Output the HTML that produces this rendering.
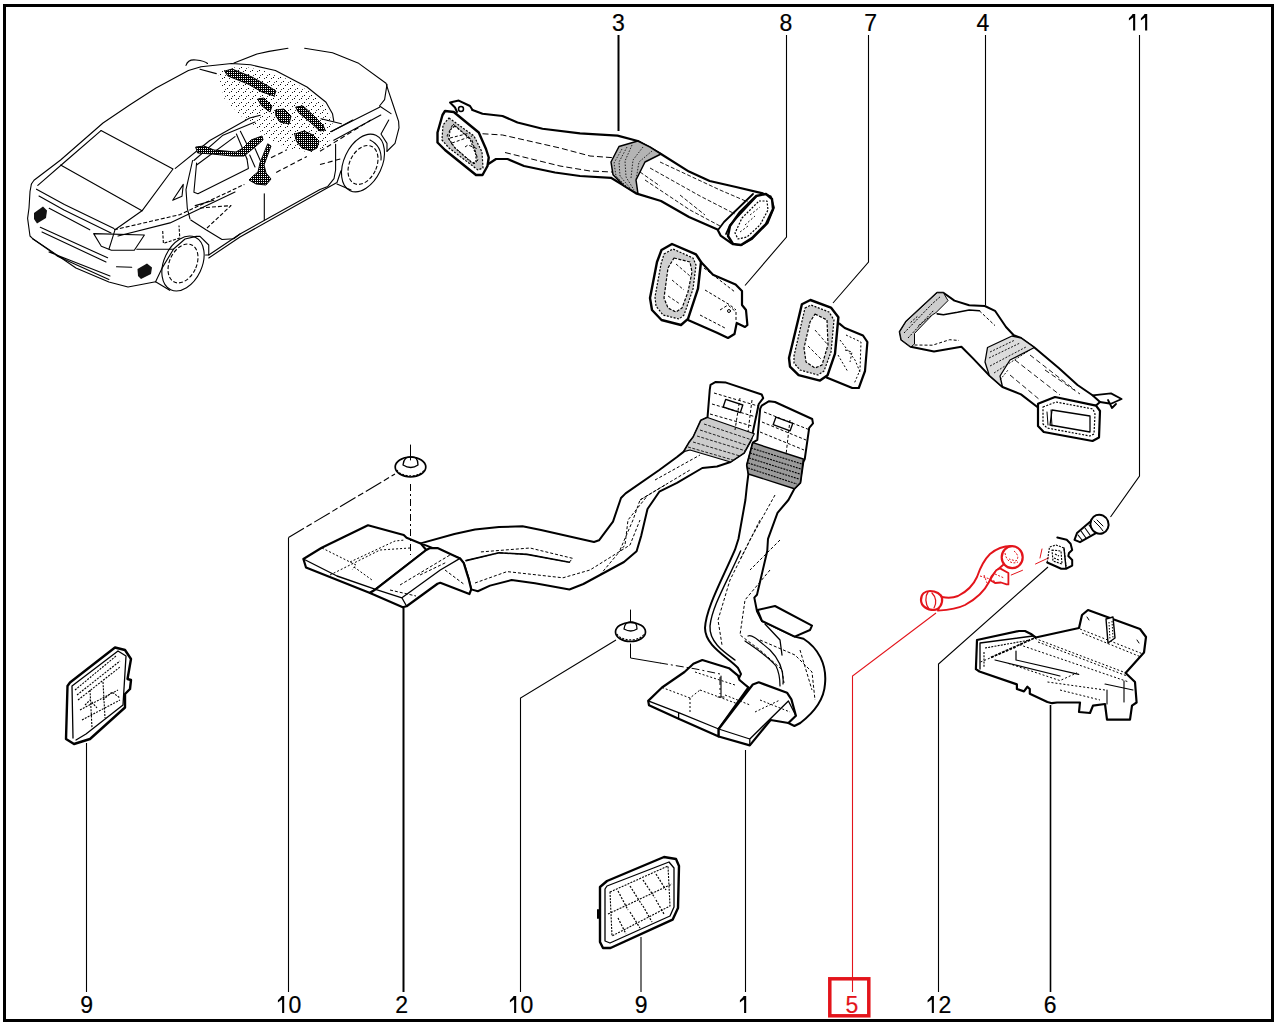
<!DOCTYPE html>
<html><head><meta charset="utf-8">
<style>
html,body{margin:0;padding:0;background:#fff;width:1280px;height:1024px;overflow:hidden}
svg{position:absolute;left:0;top:0}
text{font-family:"Liberation Sans",sans-serif;font-size:23px;fill:#000;stroke:#000;stroke-width:0.2}
</style></head><body>
<svg width="1280" height="1024" viewBox="0 0 1280 1024">
<rect x="4.5" y="5.5" width="1268" height="1015" fill="none" stroke="#000" stroke-width="3"/>


<!-- CAR -->
<defs>
<pattern id="spk" width="7" height="7" patternUnits="userSpaceOnUse">
<rect x="0" y="0" width="1" height="1" fill="#000"/><rect x="3" y="4" width="1" height="1" fill="#000"/><rect x="5" y="1" width="1" height="1" fill="#222"/><rect x="1" y="5" width="1" height="1" fill="#444"/>
</pattern>
<pattern id="hrn" width="2" height="2" patternUnits="userSpaceOnUse">
<rect x="0" y="0" width="2" height="2" fill="#000"/><rect x="1" y="0" width="1" height="1" fill="#fff"/>
</pattern>
</defs>
<path fill="url(#spk)" d="M218,72 L240,66 L262,70 L290,80 L310,92 L326,106 L333,125 L328,146 L312,152 L290,150 L272,140 L255,128 L240,115 L224,98 Z"/>
<g fill="none" stroke="#000" stroke-width="1.1" stroke-linejoin="round" stroke-linecap="round">
<!-- roof outer -->
<path d="M31.4,184 L34,180.3 L60.6,160 L103,123 L130,104.8 L156,88 L188.4,70.5 L201,66.7 L231.6,63.5 L250.6,64.8 L275.4,70.5 L307,87 L326,102.2 L332.5,113.65 L333.8,121.3"/>
<path d="M37.8,185.4 L67,160 L101,130.6"/>
<path d="M186,65.4 Q188,59 196,60 Q205,61 207.5,63.5 M200,69.2 L216.3,73.65"/>
<!-- rear window -->
<path d="M101,130.6 L173,169 L142,210.8 L60.6,165"/>
<path d="M142,210.8 L115,229.8 L111.4,241.3 L109,249"/>
<!-- trunk -->
<path d="M36.5,189.2 L64.4,204.4 L114,228.6 M39,196 L64,210 L111,233"/>
<path d="M31.4,184 L30,191.7 L29,208 L27.6,218.4 L30,236 L32.7,238.7 L51.7,251.4 L75.9,268 L108.9,282 L128,287 L140,284.8 L155.6,281.7 L169.7,290.3"/>
<path d="M32.7,238.7 L58,256.5 L108.9,279.4 M49,252 L110,276"/>
<path d="M40.3,227.3 L107.6,257.8 M42,232 L106,262"/>
<path d="M49.2,208.25 L89.8,229.8"/>
<path d="M93.65,233.65 L144.4,235 L134.3,250.2 L111.4,250.2 L101.3,246.3 Z"/>
<path d="M136.8,249.3 L173.6,249.3 M116.5,266.7 L131.7,267.3"/>
<path stroke-linecap="butt" stroke-dasharray="4 2" d="M114,229.8 L180,214.6 L244.4,184.4"/>
<path d="M118,236 L170,222.9 L235,192"/>
<path stroke-linecap="butt" stroke-dasharray="3 1.5" d="M162.7,231 L163.4,243.4 L179.8,238 L179,225.5"/>
<!-- rear wheel -->
<path d="M155.6,281.7 L161.9,268.4 L173.6,249 L185,239 L196.25,236.4 L200,236.4 L208.75,245 L208.75,255 L205.6,255"/>
<ellipse cx="183" cy="263.5" rx="19" ry="29" transform="rotate(25 183 263.5)"/>
<ellipse cx="183" cy="263.5" rx="13.5" ry="20.5" transform="rotate(25 183 263.5)" stroke-linecap="butt" stroke-dasharray="4 2"/>
<path d="M190.8,220 L206.4,230 L222,239.5 L233.75,238.75 L240,234"/>
<!-- roof side / A-pillar -->
<path d="M175.3,168.4 L209.8,140.5 L249.7,118 L260.3,115.3"/>
<path d="M193.9,160.5 L223,135.2 L255,122"/>
<path d="M192.6,160.5 L186,189.7 L187.3,208.3 L190,218.9"/>
<path d="M196.6,163 L193.9,192.3 L197.9,193.7 L248.4,168.4 L247,159"/>
<path d="M196.6,165 L235,136.6"/>
<path d="M236.4,134 L247,159 M240.4,131.2 L249.7,149.8 M249.7,155 L255,167 M255,148.5 L260.3,160.5"/>
<path d="M172.7,200.3 L183.3,184.4 L182,196.3 Z"/>
<path d="M195.2,205.6 L213.8,200.3"/>
<path stroke-linecap="butt" stroke-dasharray="4 2" d="M200,208 L231,205.6 L207,228"/>
<!-- sill -->
<path d="M208.75,255 L240,234 L320,189.5 L327.8,186.4 L334,178.6 L335.6,170 L335.6,144.2"/>
<path d="M208.75,258 L240,237 L320,192 L337,182.5 L341,170.8"/>
<path d="M264.3,193.7 L264.3,220"/>
<path stroke-linecap="butt" stroke-dasharray="5 3" d="M271,157.8 L286.9,149.8 M276.2,172.4 L306.8,156.5 M320,164.5 L340.3,159 M320,151.25 L370.8,120"/>
<path d="M331,131.7 L352.8,120"/>
<!-- front fender / hood -->
<path d="M234,62.9 L257,54 L269,51.4 L288,48.25 M304.6,48.25 L332.5,52.7 L358,62.9 L386,83.2 L388.4,90.8 L393.5,106 L398.6,121.3 L399,127.8 L395,143.4 L387,151.25"/>
<path d="M387,84.4 L384.6,99.7 L379.5,106 L391,113.65"/>
<path d="M331.3,131.4 L379.5,107.3 M333.8,140.3 L380.8,115"/>
<path d="M321,118.7 L341.4,123.8"/>
<path d="M388.75,120 L381,134 L387,143.4 L387,151.25"/>
<path d="M337,184 L351,190"/>
<ellipse cx="363" cy="163" rx="19" ry="30.5" transform="rotate(25 363 163)"/>
<path d="M370,140 Q382,146 381,160"/>
<ellipse cx="363" cy="165" rx="13.5" ry="20.5" transform="rotate(25 363 165)" stroke-linecap="butt" stroke-dasharray="4 2"/>
</g>
<!-- harness -->
<g fill="url(#hrn)" stroke="#000" stroke-linejoin="round" stroke-linecap="round">
<path stroke-width="1" d="M225,71 L232,69 L252,77 L268,86 L276,91 L274,96 L262,92 L248,84 L228,76 Z"/>
<path stroke-width="1" d="M258,99 L264,98 L272,106 L270,112 L262,106 Z"/>
<path stroke-width="1" d="M276,110 L284,109 L291,116 L289,124 L280,122 L276,116 Z"/>
<path stroke-width="1" d="M196,147 L204,146 L214,150 L236,152 L243,148 L251,140 L262,136 L263,140 L255,147 L244,156 L232,156 L212,154 L198,153 Z"/>
<path stroke-width="1" d="M268,144 L271,146 L264,165 L266,173 L271,179 L266,185 L256,184 L249,180 L253,176 L258,172 L260,163 Z"/>
<path stroke-width="1" d="M296,107 L303,106 L313,115 L323,125 L325,130 L320,131 L310,122 L299,113 Z"/>
<path stroke-width="1" d="M295,134 L304,131 L313,135 L319,141 L317,148 L311,151 L302,148 L297,142 Z"/>
</g>
<g fill="#000">
<path fill="#111" d="M34,213 L43,206.5 L47,210.5 L46,218 L37,223.5 L34,219 Z"/>
<path fill="#111" d="M137.5,269 L147,263.5 L152,267.5 L151,274 L141,279 L138,276 Z"/>
</g>
<!-- PART 3 -->
<g fill="none" stroke="#000" stroke-linejoin="round" stroke-linecap="round">
<path fill="#fff" stroke-width="2.2" d="M472.5,110 L482.5,113.75 L502.5,116 L517.5,122.5 L542.5,128.75 L580,133.3 L617.5,135.6 L637.8,141 L661,154 L689,171.6 L709.7,181 L736,187 L762.8,193.4 L770.6,196.6 L773.75,207.5 L767.5,223 L752,238.75 L741,245 L731.6,243.4 L720.6,235.6 L717.5,229.4 L689,217 L661,201 L636,193.4 L623.75,185.6 L611,177.8 L580,176 L555,172.5 L524,166 L507.5,159 L496,159 L488.75,163.75"/>
<path stroke-width="2" d="M450,102.5 L458.75,100.6 L470,106 L472.5,110 M450,102.5 L455,107.5 L457,112"/>
<circle cx="461" cy="109" r="2.5" stroke-width="1.5"/>
<path fill="#fff" stroke-width="2.4" d="M445,111 L453.75,112 L478.75,132.5 L486,149 L488.75,157.5 L487.5,166 L482.5,175 L476,175 L445,150 L437.5,142.5 L437.5,132.5 L442.5,115 Z"/>
<path fill="#c8c8c8" stroke-width="1.2" stroke-linecap="butt" stroke-dasharray="2 1.5" d="M449,118 L474,136 L482,152 L483,168 L478,170 L449,148 L442,140 L443,125 Z"/>
<path fill="#fff" stroke-width="1.2" stroke-linecap="butt" stroke-dasharray="2 1.5" d="M455,126 L470,139 L476,155 L476,162 L472,163 L455,148 L449,139 L450,130 Z"/>
<path stroke-width="1" stroke-linecap="butt" stroke-dasharray="3 2" d="M453,124 L472,140 L478,160 L474,164 L453,146 L447,136 Z M450,138 L470,133 M452,143 L472,136 M465,147 L468,145 L478,149"/>
<path stroke-width="1" stroke-linecap="butt" stroke-dasharray="6 3" d="M482.5,133.75 L502.5,135 L560,148 L590,156 L617,158 M505,152.5 L560,166 L590,171 L612,172"/>
<!-- ring -->
<path fill="#b4b4b4" stroke-width="1.5" d="M619,146.5 L637.8,141 L650,147 L661,154 L645,162 L636,180 L638,194 L623.75,185.6 L613,174.7 L611,162 Z"/>
<path stroke-width="0.8" stroke-linecap="butt" stroke-dasharray="1.5 1.5" d="M622,149 L614,163 L616,176 L626,186 M627,147 L619,162 L620,176 L630,188 M632,145 L625,161 L626,177 L634,190 M643,147 L633,160 L631,178 M652,151 L639,162 L636,180"/>
<path stroke-width="0.9" stroke-linecap="butt" stroke-dasharray="4 2" d="M650,168 L700,196 L735,214 M660,162 L720,190 L748,202 M645,180 L690,210 L720,226 M640,172 L660,186 M680,195 L705,215"/>
<!-- end face -->
<path fill="#fff" stroke-width="2.4" d="M756,196 L766,194 L772,199 L773,209 L766,224 L752,238 L741,245 L733,244 L728,236 L730,226 L740,212 Z"/>
<path stroke-width="1.2" stroke-linecap="butt" stroke-dasharray="2 1.5" d="M759,201 L767,201 L768,210 L760,225 L747,237 L738,239 L735,233 L742,218 Z"/>
<path stroke-width="1.8" d="M753,194 L724,222 L718,230 M757,196 L730,225 L726,234"/>
<path stroke-width="0.9" stroke-linecap="butt" stroke-dasharray="2 2" d="M750,215 L760,207 M745,225 L755,216 M740,232 L748,226"/>
</g>
<!-- PART 8 -->
<g fill="none" stroke="#000" stroke-linejoin="round" stroke-linecap="round">
<path fill="#fff" stroke-width="2.2" d="M701,262 L713,274.7 L735.6,284.4 L742,291 L742,305 L746,310 L747.4,325 L745,327 L736.7,323 L734.5,334 L728,338 L717,332.7 L688,320"/>
<path stroke-width="1" stroke-linecap="butt" stroke-dasharray="3 2" d="M705,290 L730,305 L736,310 M700,315 L725,328 M704,268 L735,292 M720,310 L728,305 L736,312 L736,322"/>
<circle cx="729" cy="311" r="1.5" stroke-width="1"/>
<path fill="#fff" stroke-width="2.4" d="M661.5,250 L672,244 L696,254.3 L701,262 L698,288.7 L688,318.8 L681,325 L661.5,320 L652,310 L650,298 L657,262 Z"/>
<path fill="#cfcfcf" stroke-width="1.2" stroke-linecap="butt" stroke-dasharray="2 1.5" d="M664,254 L673,249 L693,258 L696,265 L693,289 L684,315 L679,319 L663,315 L656,306 L655,297 L661,264 Z"/>
<path fill="#fff" stroke-width="1.2" stroke-linecap="butt" stroke-dasharray="3 1.5" d="M674,258 L690,262 L692,272 L688,292 L682,308 L676,312 L668,308 L664,298 L668,268 Z"/>
<path stroke-width="0.9" stroke-linecap="butt" stroke-dasharray="3 2" d="M676,264 L690,276 M672,280 L684,290 M668,296 L680,304"/>
</g>
<!-- PART 7 -->
<g fill="none" stroke="#000" stroke-linejoin="round" stroke-linecap="round">
<path fill="#fff" stroke-width="2.2" d="M839.4,323.7 L844.8,328 L863,335.5 L867.4,342 L865,371 L858.8,388 L852.3,388 L826.6,377.4"/>
<path stroke-width="1" stroke-linecap="butt" stroke-dasharray="2 2" d="M846,335 L861,342 L860,370 L854,384 M840,340 L855,360 L860,372 M838,355 L848,372 M845,350 L852,352 L850,362"/>
<path fill="#fff" stroke-width="2.4" d="M801.9,304.3 L810.4,300 L830.9,307.6 L838.4,317.2 L835,353.7 L827.6,375.2 L820,380.6 L798.6,375.2 L790,366.6 L789,358 Z"/>
<path fill="#cfcfcf" stroke-width="1.2" stroke-linecap="butt" stroke-dasharray="2 1.5" d="M805,308 L811,305 L829,312 L834,320 L831,352 L824,371 L818,375 L800,370 L794,363 L794,356 Z"/>
<path fill="#fff" stroke-width="1.2" stroke-linecap="butt" stroke-dasharray="3 1.5" d="M815,314 L827,320 L828,345 L822,365 L815,368 L806,362 L804,348 L810,322 Z"/>
<path stroke-width="0.9" stroke-linecap="butt" stroke-dasharray="3 2" d="M815,330 L828,345 M808,346 L822,360"/>
</g>
<!-- PART 4 -->
<g fill="none" stroke="#000" stroke-linejoin="round" stroke-linecap="round">
<path fill="#fff" stroke-width="2" d="M899.7,331.9 L906,321.7 L937.2,292.8 L943.4,292.8 L954.4,300.6 L969.2,305.3 L984.8,306 L995,310.8 L1006,327 L1013.75,335.3 L1021,338 L1034.4,347.5 L1058.75,368 L1077.5,385 L1092.5,395.3 L1100,402 L1096,405.6 L1038,407.5 L1021,394.4 L1002.5,387 L989.4,375.6 L973,358.4 L961.4,346.7 L934,351.4 L910.6,346.7 L901.25,339.7 Z"/>
<path fill="#cdcdcd" stroke-width="1" d="M910.6,346.7 L901.25,339.7 L899.7,331.9 L906,321.7 L937.2,292.8 L943.4,292.8 L948,300.6 L935.6,313 L932.5,314.7 L914.5,333.4 L914.5,343.6 Z"/>
<path stroke-width="1" stroke-linecap="butt" stroke-dasharray="2 1.5" d="M904,333 L932,304 L941,296 M908,338 L934,310 M910.6,322.5 L918.4,315.5 M918.4,325.6 L932.5,314.7"/>
<path stroke-width="1.6" d="M937.2,313.9 L943.4,314.7 L957.5,312.3 L969.2,310 L979.4,310.8"/>
<path stroke-width="1" stroke-linecap="butt" stroke-dasharray="3 2" d="M979.4,310.8 L995,325.6 M914.5,345 L932.5,345.2 L949.7,339.7 L959,340.5"/>
<path stroke-width="1.8" d="M1092.5,395.3 L1111,393.4 L1121.6,399 L1111,403.75 L1100,402 M1108,400 L1112,408 L1116,404"/>
<path fill="#dcdcdc" stroke-width="1.3" d="M987.5,347.5 L1012,336 L1021,338 L1034.4,347.5 L1010,360 L1000,376 L1002.5,387 L989.4,375.6 L985,362 Z"/>
<path stroke-width="0.9" stroke-linecap="butt" stroke-dasharray="2 1.5" d="M990,352 L1015,340 M989,358 L1020,343 M990,366 L1026,347 M994,373 L1030,350 M1000,380 L1008,370"/>
<path stroke-width="0.9" stroke-linecap="butt" stroke-dasharray="5 3" d="M1015,360 L1060,395 M1030,355 L1075,390 M1010,375 L1040,400 M1045,370 L1080,394"/>
<path fill="#fff" stroke-width="2.2" d="M1038,403.75 L1055,397 L1096,405.6 L1100,411 L1099,437.5 L1092.5,441 L1043.75,432 L1038,426 Z"/>
<path stroke-width="1.2" stroke-linecap="butt" stroke-dasharray="2 1.5" d="M1043,407 L1056,402 L1093,409 L1095,414 L1094,434 L1090,436 L1047,428 L1043,424 Z"/>
<path fill="#fff" stroke-width="1.3" d="M1052,410 L1090,416 L1090,432 L1050,425 Z"/>
<path stroke-width="1" d="M1047,412 L1048,425 M1051,410 L1052,426"/>
</g>


<!-- PART 2 -->
<g fill="none" stroke="#000" stroke-linejoin="round" stroke-linecap="round">
<path fill="#fff" stroke-width="2" d="M420.6,543.4 L454.4,534 L475,529.5 L499,527 L522.5,526.25 L541,530 L594,542 L599,540.3 L613,521.6 L621,498 L625.6,493.4 L659.3,470 L677,457 L683.8,451.6 L689,442.7 L693.4,436.8 L700.9,420.5 L707.5,417.5 L709.8,389.3 L710.5,384.8 L715.7,381.9 L726,382.6 L761.7,394.5 L763.2,398.2 L758.75,404 L752.8,432.3 L751.3,439.8 L744,453 L730.5,462 L717,466.5 L702.3,468 L677,482.8 L659.3,491.7 L647.5,509 L641.25,535.6 L636.6,551.25 L624,562 L583.4,584 L569.4,589.5 L535,583.3 L511.6,580 L490,585.6 L477.8,591.25 L471.25,589.4 L468.4,578.1 L463.75,563.1 L460,558.4 Z"/>
<path stroke-width="1" stroke-linecap="butt" stroke-dasharray="3 2" d="M466,560.6 L499,552.8 L527,554.4 L569.4,562.2 L572.5,558.3 L530,548 L480,552 M475,583 L507,571.6 L563,577.8 L590,570 L630,545 L640,520 M620,550 L633,520 L640,500 L665,485 M600,575 L625,545 L628,520 L648,495 M655,480 L700,455 M640,500 L690,470"/>
<path stroke-width="1.6" d="M466,560.6 L499,552.8 L527,554.4 L569.4,562.2"/>
<!-- corrugation -->
<path fill="#cccccc" stroke-width="1.2" d="M707.5,417.5 L754.3,433.8 L744,453 L730.5,462 L690,450 L683.8,451.6 L689,442.7 L693.4,436.8 L700.9,420.5 Z"/>
<path stroke="#222" stroke-width="1" stroke-linecap="butt" stroke-dasharray="3 1.5" d="M704,424 L752,440 M700,430 L749,446 M697,436 L746,451 M693,442 L740,456 M688,447 L733,460"/>
<path stroke-width="1" stroke-linecap="butt" stroke-dasharray="3 2" d="M714,393 L758,406 M712,404 L756,417 M710,414 L752,426 M740,398 L735,430 M752,400 L748,432"/>
<rect x="724" y="402" width="18" height="8" transform="rotate(18 733 406)" stroke-width="1.4"/>
<!-- left vent box -->
<path fill="#fff" stroke-width="2.2" d="M303.4,559 L321.7,547.8 L368,525.3 L403.75,535 L406.6,537.8 L420.6,543.4 L426.25,550 L375.6,589.4 L370,593 L306,567.5 Z"/>
<path stroke-width="1.4" d="M303.4,559 L337,576 L375.6,589.4"/>
<path stroke-width="1" stroke-linecap="butt" stroke-dasharray="2 2" d="M322,548 L350,562 L356,565 L352,570 M350,562 L395,541 L405,540 M330,575 L380,550 L410,548 M354,567 L372,580"/>
<!-- right vent box -->
<path fill="#fff" stroke-width="2.2" d="M375.6,589.4 L426.25,550 L430,548.1 L437.5,548.1 L460,558.4 L463.75,563.1 L468.4,578.1 L471.25,589.4 L469.4,594 L440.3,582.8 L437.5,583.75 L406.6,606.25 L402.8,607.2 L370,593 Z"/>
<path stroke-width="1.3" d="M375.6,589.4 L401.9,597.8 L406.6,606.25 M401.9,597.8 L440.3,570 L460,558.4"/>
<path stroke-width="1" stroke-linecap="butt" stroke-dasharray="3 2" d="M400,585 L450,555 M390,590 L416,596 M420,575 L447,562 M445,570 L465,585"/>
</g>
<!-- PART 1 -->
<g fill="none" stroke="#000" stroke-linejoin="round" stroke-linecap="round">
<path fill="#fff" stroke-width="2" d="M746.9,485.8 L745.4,500 L738.5,538.8 L735,549.7 C722,580 706,608 705,628 C705,646 728,657 738,668 L741,674 L738,680 L748.4,687.5 L788.4,723 L794.4,726 L800.3,723 C812,714 824,700 825,684 C827,664 818,648 803.5,638.75 L794.7,636.6 L762,621 L757,611.25 L754.3,597.6 L757,594.8 L767.25,551 L768,538.8 L777.5,512.8 L788.4,500 L794.4,488.75 L800.3,482.8 L803.3,462 L804.75,459 L809.2,427.9 L813,423.4 L812.2,419 L775,402 L769.1,401.2 L761.7,405.6 L760.2,408.6 L757.3,439.8 L752.8,442.7 L746.9,465 L748.4,474 Z"/>
<path stroke-width="1.4" d="M740.6,551 C728,580 712,606 710,626 C709,642 724,652 735,660"/>
<path stroke-width="1.2" d="M748,636 C752,634 758,640 770,650 C780,660 784,672 783,684 M745,641 C752,646 768,656 776,666 C780,674 780,680 780,686"/>
<path stroke-width="1" stroke-linecap="butt" stroke-dasharray="3 2" d="M775,495 L750,540 L730,580 L718,620 L722,645 M760,520 L740,560 M780,540 L750,570 M770,570 L745,600 L740,635 L760,650 L782,669.7 L784,683 M760,640 L795,655 L812,672 L815,700 M800,650 L812,690"/>
<path stroke-width="1.3" d="M765,624 L780,640 L782,655"/>
<!-- corrugation dark -->
<path fill="#9a9a9a" stroke-width="1.4" d="M752.8,442.7 L803.3,459 L800.3,482.8 L794.4,488.75 L748.4,474 L746.9,465 Z"/>
<path stroke="#000" stroke-width="1.1" stroke-linecap="butt" stroke-dasharray="2 1" d="M751,448 L802,464 M750,453 L801,469 M749,458 L800,474 M748,463 L799,479 M748,468 L797,484"/>
<path stroke-width="1" stroke-linecap="butt" stroke-dasharray="3 2" d="M764,412 L810,430 M762,422 L806,440 M760,432 L804,450 M790,420 L786,455"/>
<rect x="774" y="420" width="18" height="8" transform="rotate(20 783 424)" stroke-width="1.4"/>
<!-- flap -->
<path fill="#fff" stroke-width="2" d="M757.5,610 L775,606 L812,625.6 L810,630 L794.7,636.6 L762,621 Z"/>
<!-- lower vent boxes -->
<path fill="#fff" stroke-width="2.2" d="M648.2,700.9 L662,687.5 L684.5,672 L693.4,663.75 L702.3,660 L729,668.2 L738,675.6 L739.5,680 L748.4,687.5 L718.7,729 L718.7,736.5 L678.6,718.7 L649,705.3 Z"/>
<path fill="#fff" stroke-width="2.2" d="M718.7,729 L752.8,684.5 L758.75,682.3 L787,692.7 L791.4,699.4 L795.9,715.7 L788.4,723 L770.6,720 L749.8,745.4 L718.7,736.5 Z"/>
<path stroke-width="1.3" d="M648.2,700.9 L678.6,712.7 L718.7,729 M678.6,712.7 L678.6,718.7 M718.7,729 L749.8,739 L749.8,745.4 M749.8,739 L788.4,701 L795.9,715.7"/>
<path stroke-width="1" stroke-linecap="butt" stroke-dasharray="2 2" d="M662,687.5 L690,698 L700,690 M690,698 L690,712 M700,690 L738,704 M695,672 L735,685 M760,700 L790,712 M755,712 L780,700 M725,695 L750,705"/>
<path stroke-width="1.1" d="M721,676 L721,697 M718,697 L724,697"/>
</g>
<!-- CLIPS 10 -->
<g fill="none" stroke="#000" stroke-linejoin="round" stroke-linecap="round">
<ellipse cx="410.5" cy="467" rx="15.3" ry="10" fill="#fff" stroke-width="1.7"/>
<path stroke-width="1.1" stroke-linecap="butt" stroke-dasharray="2 1.5" d="M397,470 A14,8 0 0 0 424,470"/>
<path stroke-width="1.3" d="M403,465 Q404,456 411,457 Q418,456 418,465 Q411,470 403,465 Z"/>
<path stroke-width="1" d="M410.5,445 L410.5,460"/>
<path stroke-width="1" stroke-linecap="butt" stroke-dasharray="7 3 2 3" d="M410.5,484 L410.5,555"/>
<ellipse cx="630.5" cy="632" rx="15" ry="9.5" fill="#fff" stroke-width="1.7"/>
<path stroke-width="1.1" stroke-linecap="butt" stroke-dasharray="2 1.5" d="M617,634 A14,8 0 0 0 644,634"/>
<path stroke-width="1.3" d="M624,629 Q625,621 631,622 Q637,621 637,629 Q631,633 624,629 Z"/>
<path stroke-width="1" d="M630.5,610 L630.5,622"/>
<path stroke-width="1" d="M630.5,644 L630.5,658 L660,663"/>
<path stroke-width="1" stroke-linecap="butt" stroke-dasharray="8 3 2 3" d="M660,663 L696,669 L720,674 L720,694"/>
</g>


<!-- PART 5 red hose -->
<g fill="none" stroke="#e3141b" stroke-linejoin="round" stroke-linecap="round">
<path fill="#fff" stroke-width="1.9" d="M942,597 C947,598 953,598 958,596 C966,592 973,586 977,577 C980,568 984,560 990,554 C996,549 1004,546 1011,546 L1014,556 C1006,562 1002,566 996,571 C992,575 990,579 989,582 C984,592 976,599 965,605 C957,609 948,610 938,610.6 Z"/>
<path fill="#fff" stroke-width="2.2" d="M921,600 C921,594 925,591 930,591 C936,591 941,594 942,598 C943,604 939,610 934,610 C927,610 921,606 921,600 Z"/>
<path stroke-width="1.3" d="M928,592 C925,596 925,604 929,609 M932,593 C936,597 937,603 934,608"/>
<ellipse cx="1012.2" cy="557.2" rx="10.5" ry="11" fill="#fff" stroke-width="2.2"/>
<path stroke-width="1" stroke-linecap="butt" stroke-dasharray="2 1.5" d="M1005,553 C1006,560 1011,565 1018,562 M1014,551 C1018,554 1019,558 1016,561 L1009,559"/>
<path fill="#fff" stroke-width="1.8" d="M990,580 L996.25,570.3 L1000,568.4 L1008.4,573 L1008.4,584.4 L1006.6,584.4 L1001,582.5 L995,583 Z"/>
<path stroke-width="1" stroke-linecap="butt" stroke-dasharray="2 1.5" d="M980,576 L990,579 L996,582 M984,575 L987,583 M995,574 L1004,578"/>
<path stroke-width="1" d="M1011.25,575 L1022.5,570.3 M1035.5,564 L1048.75,557.8 M1042,549 L1040,558"/>
</g>
<!-- PART 11 screw + 12 nut -->
<g fill="none" stroke="#000" stroke-linejoin="round" stroke-linecap="round">
<path fill="#fff" stroke-width="2" d="M1091,521 L1077,533 L1074.5,539.8 L1080,542.2 L1096.4,532.8"/>
<path stroke-width="1.1" d="M1081,531 L1086,538 M1085,528 L1090,535 M1089,525 L1094,532 M1078,535 L1082,540"/>
<ellipse cx="1099.5" cy="524.2" rx="9" ry="9.6" transform="rotate(-20 1099.5 524.2)" fill="#fff" stroke-width="2"/>
<path stroke-width="1" d="M1094,521 L1100,527 L1103,531 M1097,520 L1103,526"/>
<path fill="#fff" stroke-width="2" d="M1057.3,537.5 L1066.7,539.8 L1070.6,543.75 L1072.2,550 L1069,553 L1068.3,556 L1072.2,560 L1072.2,565.6 L1066,568.75 L1061.25,568.75 L1047.2,562.5"/>
<path stroke-width="1.1" stroke-linecap="butt" stroke-dasharray="2 1.2" d="M1047.2,562.5 L1049.5,547 L1056,545 L1064,548 L1066,566 M1052,550 L1061,551 L1062,564 L1053,561 Z M1055,554 L1059,556 M1054,558 L1059,560"/>
<path stroke-width="1.4" d="M1064,548 L1066,568"/>
</g>
<!-- PART 6 tray -->
<g fill="none" stroke="#000" stroke-linejoin="round" stroke-linecap="round">
<path fill="#fff" stroke-width="2.2" d="M977,640 L1019,631 L1025,631 L1031,634 L1035.65,637.5 L1079,628 L1082,615 L1088,610 L1140,629 L1146,637 L1144,652.5 L1125.6,673 L1135,682 L1136.6,702.5 L1132,705.6 L1130,719.7 L1107,719.7 L1105,704 L1093,705.6 L1090,713 L1079,712 L1080,702.5 L1057,702.5 L1052,703.2 L1047.4,702 L1029.8,693.8 L1029.8,689 L1027.4,686.75 L1024,691.4 L1016.9,689 L1016.9,684.4 L979.4,671.5 L975.9,669.2 Z"/>
<path stroke-width="1.3" d="M980,643 L980,669 M980,643 L1033,636"/>
<path stroke-width="1.1" stroke-linecap="butt" stroke-dasharray="2 1.2" d="M985,648 L1030,640 M984,652 L984,668"/>
<path stroke-width="1.7" stroke-linecap="butt" stroke-dasharray="3 1" d="M991,657.4 L1035.65,637.5"/>
<path stroke-width="1" stroke-linecap="butt" stroke-dasharray="2 2" d="M980.5,662 L1016.9,647 M1080,629 L1143,654 M1082,633 L1141,657 M1035,638.4 L1125.6,672.8 M1038,642 L1127,676 M1019.4,644.7 L1128.75,682 M1008.4,663.4 L1060,680.6 L1077,672.8 M1047.5,682 L1105,690 M1060,690 L1100,700"/>
<path stroke-width="1.2" d="M1016,651 L1016,660 L1078.75,674.4 M995,660 L1060,676"/>
<path stroke-width="1.1" d="M1105,684 L1133,690 M1124,681 L1124,702 M1107,704 L1107,690"/>
<path fill="#fff" stroke-width="1.4" d="M1106,619 L1113,617 L1115,638 L1108,643 Z"/>
<path stroke-width="1" stroke-linecap="butt" stroke-dasharray="1.5 1.5" d="M1109,622 L1110,640 M1112,621 L1113,638"/>
<path stroke-width="1" d="M1087,617 L1089,620 M1137,640 L1139,643"/>
</g>
<!-- VENT 9 left -->
<g fill="none" stroke="#000" stroke-linejoin="round" stroke-linecap="round">
<path fill="#fff" stroke-width="2.4" d="M70,682.5 L115,647.5 L125,650 L131,659 L127.5,679 L131,680 L130,689 L125,694 L125,707.5 L90,739 L74,744 L66,739 L67.5,686 Z"/>
<path stroke-width="1.3" d="M72,686 L73,738 M72,686 L118,651 L126,656 L123,705 L86,734 L76,740"/>
<path stroke-width="1.1" stroke-linecap="butt" stroke-dasharray="2 1.2" d="M75,690 L116,656 M77,695 L120,661 M78,700 L120,667 M90,690 L92,728 M103,682 L105,718 M80,710 L118,690 M82,720 L120,700 M85,705 L90,700 L97,708 M103,700 L112,692 L120,698"/>
</g>
<!-- VENT 9 lower -->
<g fill="none" stroke="#000" stroke-linejoin="round" stroke-linecap="round">
<path fill="#fff" stroke-width="2.4" d="M600,887 L607,881 L664,857 L676,859 L679,866 L678,908 L672.6,919.7 L610.5,948 L603,948 L600,942 Z"/>
<path stroke-width="1.3" d="M605,889 L605,941 L610,943 L670,916 L674,907 L674,868 L669,862 L607,886 Z"/>
<path stroke-width="1.1" stroke-linecap="butt" stroke-dasharray="2 1.2" d="M610,892 L668,866 L670,906 L612,936 Z M608,914 L672,884"/>
<path stroke-width="1.2" stroke-linecap="butt" stroke-dasharray="2 1.5" d="M618,891 L628,910 M630,886 L642,905 M643,880 L655,898 M656,874 L666,890 M618,918 L626,934 M630,912 L640,928 M643,906 L652,922 M656,900 L664,914"/>
<path stroke-width="2" d="M598,910 L598,918"/>
</g>

<!-- labels -->
<g>
<text x="611.9" y="31">3</text>
<text x="779.5" y="31">8</text>
<text x="864.3" y="31">7</text>
<text x="976.5" y="31">4</text>
<text x="80.2" y="1013">9</text>
<text x="288.5" y="1013">0</text>
<text x="395.3" y="1013">2</text>
<text x="520.5" y="1013">0</text>
<text x="634.8" y="1013">9</text>
<text x="845.5" y="1013" style="fill:#e3141b;stroke:#e3141b;stroke-width:0.2">5</text>
<text x="938.5" y="1013">2</text>
<text x="1043.7" y="1013">6</text>
</g>
<path fill="#000" d="M1135.2,30.6 L1135.2,14 L1132.6,14 L1131.6,15.6 L1128.9,18.3 L1128.9,20.5 L1130.9,19.0 L1133.1,17.4 L1133.1,30.6 Z M1147.2,30.6 L1147.2,14 L1144.6,14 L1143.6,15.6 L1140.9,18.3 L1140.9,20.5 L1142.9,19.0 L1145.1,17.4 L1145.1,30.6 Z M284.2,1013 L284.2,996 L281.6,996 L280.6,997.6 L277.9,1000.3 L277.9,1002.5 L279.9,1001.0 L282.1,999.4 L282.1,1013 Z M516.2,1013 L516.2,996 L513.6,996 L512.6,997.6 L509.9,1000.3 L509.9,1002.5 L511.9,1001.0 L514.1,999.4 L514.1,1013 Z M746.2,1013 L746.2,996 L743.6,996 L742.6,997.6 L739.9,1000.3 L739.9,1002.5 L741.9,1001.0 L744.1,999.4 L744.1,1013 Z M933.9,1013 L933.9,996 L931.3,996 L930.3,997.6 L927.6,1000.3 L927.6,1002.5 L929.6,1001.0 L931.8,999.4 L931.8,1013 Z"/>
<!-- leaders -->
<g fill="none" stroke="#000" stroke-width="1.1">
<polyline points="618.5,35 618.5,131" stroke-width="2"/>
<polyline points="786.5,35 786.5,237 745,285.5"/>
<polyline points="868.5,35 868.5,262 833,303"/>
<polyline points="985.5,35 985.5,305"/>
<polyline points="1139.5,35 1139.5,476 1110.5,517"/>
<polyline points="86.5,992 86.5,743"/>
<polyline points="288.5,992 288.5,537.5"/>
<polyline points="288.5,537.5 395,474" stroke-linecap="butt" stroke-dasharray="18 3 6 3"/>
<polyline points="403.5,992 403.5,608" stroke-width="2"/>
<polyline points="520.5,992 520.5,698 616,640"/>
<polyline points="641,992 641,937"/>
<polyline points="745.5,992 745.5,750"/>
<polyline points="938.5,992 938.5,664 1048,567"/>
<polyline points="1050.5,992 1050.5,705" stroke-width="1.6"/>
</g>
<g fill="none" stroke="#e3141b">
<polyline points="852.5,992 852.5,676 936,613" stroke-width="1.1"/>
<rect x="829.8" y="978.8" width="39" height="37" stroke-width="3.5"/>
</g>
</svg>
</body></html>
